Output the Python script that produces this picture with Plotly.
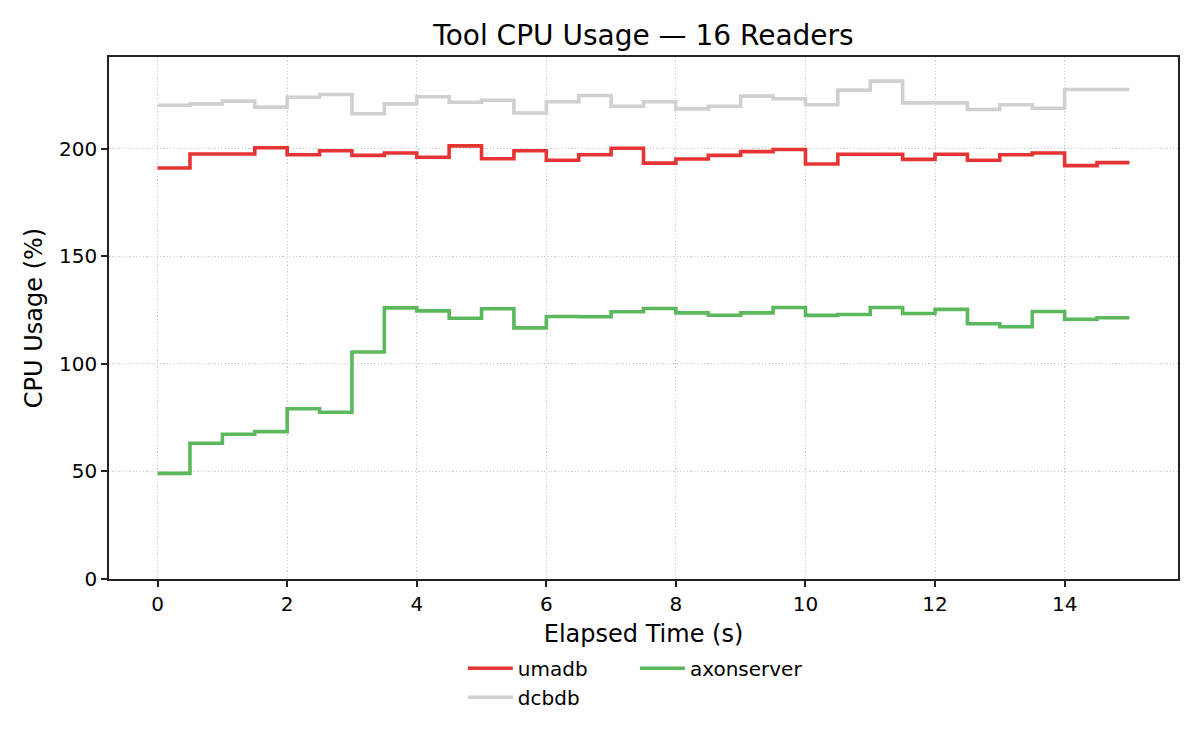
import plotly.graph_objects as go

time_s = [i * 0.5 for i in range(31)]

umadb = [191.0, 197.5, 197.5, 200.4, 197.2, 199.0, 196.9, 198.0, 196.0, 201.3,
         195.3, 199.0, 194.6, 197.2, 200.2, 193.3, 195.2, 196.9, 198.6, 199.6,
         192.9, 197.4, 197.4, 195.0, 197.4, 194.6, 197.2, 198.0, 192.1, 193.5, 193.5]

dcbdb = [220.2, 220.8, 222.1, 219.3, 223.9, 225.2, 216.2, 220.8, 224.1, 221.6,
         222.5, 216.6, 221.8, 224.7, 219.7, 221.8, 218.5, 219.7, 224.4, 223.2,
         220.4, 227.2, 231.4, 221.3, 221.3, 218.2, 220.4, 218.8, 227.5, 227.5, 227.5]

axonserver = [49.1, 63.1, 67.3, 68.5, 79.1, 77.5, 105.5, 126.0, 124.6, 121.2,
              125.6, 116.7, 122.0, 121.9, 124.2, 125.7, 123.7, 122.6, 123.7, 126.2,
              122.5, 122.9, 126.2, 123.4, 125.3, 118.6, 117.2, 124.3, 120.7, 121.4, 121.4]

x_ticks = [0, 2, 4, 6, 8, 10, 12, 14]
y_ticks = [0, 50, 100, 150, 200]

FONT = "DejaVu Sans"
LW = 3.6

fig = go.Figure()
fig.add_trace(go.Scatter(x=time_s, y=umadb, name="umadb", mode="lines",
                         line=dict(color="#e63333", width=LW, shape="hv"),
                         legend="legend"))
fig.add_trace(go.Scatter(x=time_s, y=dcbdb, name="dcbdb", mode="lines",
                         line=dict(color="#d0d0d0", width=LW, shape="hv"),
                         legend="legend"))
fig.add_trace(go.Scatter(x=time_s, y=axonserver, name="axonserver", mode="lines",
                         line=dict(color="#5cb85c", width=LW, shape="hv"),
                         legend="legend2"))

axis_common = dict(
    showline=True, linecolor="#222222", linewidth=1.6, mirror=True,
    ticks="outside", ticklen=6, tickwidth=1.6, tickcolor="#222222",
    showgrid=True, gridcolor="#c8c8c8", griddash="1.2px,2.2px", gridwidth=1.2,
    zeroline=False, tickfont=dict(family=FONT, size=20, color="#000000"),
)

fig.update_layout(
    width=1200, height=750,
    paper_bgcolor="white", plot_bgcolor="white",
    margin=dict(l=109, r=22, t=57, b=171),
    font=dict(family=FONT, color="#000000"),
    title=dict(text="Tool CPU Usage — 16 Readers", x=0.5, xref="paper",
               y=1 - 35 / 750, yref="container", yanchor="middle", xanchor="center",
               font=dict(family=FONT, size=28, color="#000000")),
    xaxis=dict(range=[-0.75, 15.75], tickvals=x_ticks,
               title=dict(text="Elapsed Time (s)", font=dict(family=FONT, size=24), standoff=10),
               **axis_common),
    yaxis=dict(range=[0, 242.6], tickvals=y_ticks,
               title=dict(text="CPU Usage (%)", font=dict(family=FONT, size=24), standoff=10),
               **axis_common),
    legend=dict(x=0.331, y=-0.1335, xanchor="left", yanchor="top",
                orientation="v", font=dict(family=FONT, size=20),
                bgcolor="rgba(0,0,0,0)", itemwidth=45, tracegroupgap=0),
    legend2=dict(x=0.492, y=-0.1335, xanchor="left", yanchor="top",
                 orientation="v", font=dict(family=FONT, size=20),
                 bgcolor="rgba(0,0,0,0)", itemwidth=45),
    showlegend=True,
)

fig.write_html("out.html",
               config={"displayModeBar": False},
               post_script="document.body.style.margin='0px';document.body.style.padding='0px';")
